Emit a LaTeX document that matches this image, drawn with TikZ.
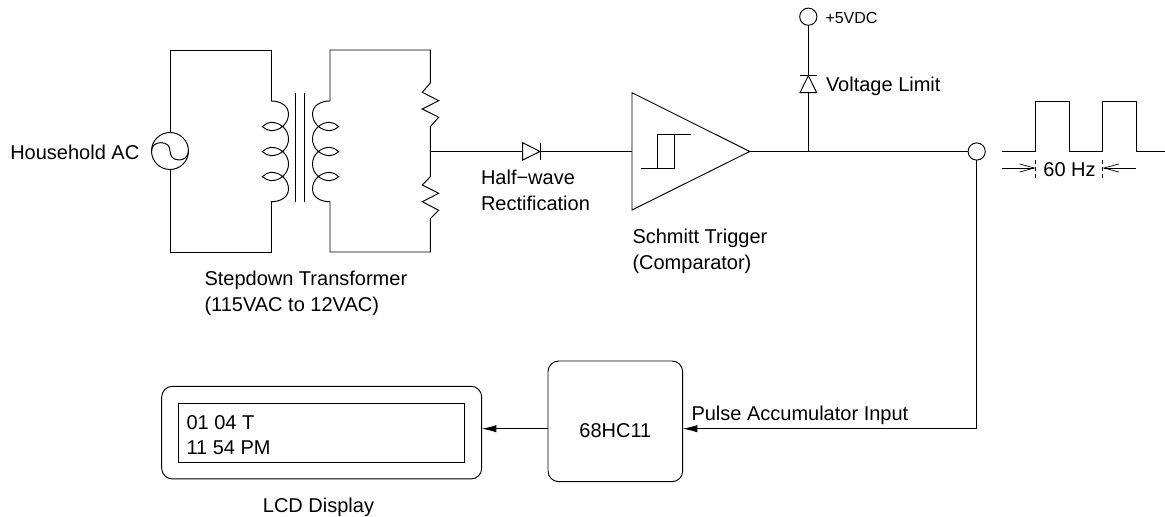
\documentclass[tikz,border=0pt]{standalone}
\usepackage{fontspec}
\setmainfont{Liberation Sans}
\usetikzlibrary{arrows.meta}
\tikzset{
  wire/.style={line width=0.72pt,line join=miter},
  thinwire/.style={line width=0.65pt},
  solidhead/.style={wire,-{Latex[length=11pt,width=5.5pt]}},
  openhead/.style={thinwire,-{Straight Barb[length=11pt,width=6pt,line width=0.55pt]}},
  lbl/.style={anchor=base west,inner sep=0pt,outer sep=0pt,font=\fontsize{15}{18}\selectfont},
  lblc/.style={lbl,anchor=base},
  ring/.style={circle,draw,line width=0.72pt,inner sep=0pt,outer sep=0pt,minimum size=#1},
  roundbox/.style={draw,line width=0.72pt,rounded corners=8pt,inner sep=0pt,outer sep=0pt,anchor=north west},
  plainbox/.style={draw,line width=0.72pt,inner sep=0pt,outer sep=0pt,anchor=north west},
}
\begin{document}
\begin{tikzpicture}[x=0.75pt,y=-0.75pt]
\useasboundingbox (0,0) rectangle (1165,517);
% source
\node[ring=27.75pt] (src) at (170,151) {};
\draw[wire] (151.5,151) .. controls (152,145) and (156,142.7) .. (161,142.7) .. controls (167,142.7) and (170,146) .. (170,151) .. controls (170,156) and (173,160) .. (179,160) .. controls (184,160) and (188,157) .. (188.5,151);
\coordinate (ptop) at (271,101);
\coordinate (pbot) at (271,201.7);
\coordinate (stop) at (330,101);
\coordinate (sbot) at (330,201.7);
\draw[wire] (src.north) |- (170,50) -| (ptop);
\draw[wire] (src.south) |- (170,252) -| (pbot);
% primary coil
\draw[wire] (ptop) .. controls (281,101) and (288.5,106) .. (288.5,114)
  .. controls (288.5,122.7) and (281,130.7) .. (271,130.7)
  .. controls (268,130.7) and (265,128.7) .. (262.3,126.7)
  .. controls (265,124.3) and (268,122.3) .. (271,122.3)
  .. controls (281,122.3) and (288.5,130) .. (288.5,139)
  .. controls (288.5,148) and (281,155.7) .. (271,155.7)
  .. controls (268,155.7) and (265,153.7) .. (262.3,151.7)
  .. controls (265,149.3) and (268,147.3) .. (271,147.3)
  .. controls (281,147.3) and (288.5,155) .. (288.5,164)
  .. controls (288.5,173) and (281,180.7) .. (271,180.7)
  .. controls (268,180.7) and (265,178.7) .. (262.3,176.7)
  .. controls (265,174.3) and (268,172.3) .. (271,172.3)
  .. controls (281,172.3) and (288.5,180) .. (288.5,189)
  .. controls (288.5,197) and (281,201.7) .. (pbot);
% core
\draw[wire] (295.7,92.7) -- (295.7,201.7);
\draw[wire] (304.3,92.7) -- (304.3,201.7);
% secondary coil
\draw[wire] (stop) .. controls (320,101) and (312.5,106) .. (312.5,114)
  .. controls (312.5,122.7) and (320,130.7) .. (330,130.7)
  .. controls (333,130.7) and (336,128.7) .. (338.7,126.7)
  .. controls (336,124.3) and (333,122.3) .. (330,122.3)
  .. controls (320,122.3) and (312.5,130) .. (312.5,139)
  .. controls (312.5,148) and (320,155.7) .. (330,155.7)
  .. controls (333,155.7) and (336,153.7) .. (338.7,151.7)
  .. controls (336,149.3) and (333,147.3) .. (330,147.3)
  .. controls (320,147.3) and (312.5,155) .. (312.5,164)
  .. controls (312.5,173) and (320,180.7) .. (330,180.7)
  .. controls (333,180.7) and (336,178.7) .. (338.7,176.7)
  .. controls (336,174.3) and (333,172.3) .. (330,172.3)
  .. controls (320,172.3) and (312.5,180) .. (312.5,189)
  .. controls (312.5,197) and (320,201.7) .. (sbot);
% secondary wiring with resistors
\coordinate (rmid) at (430.3,151.5);
\draw[wire] (stop) -- (330,50) -- (430.3,50) -- (430.3,83) -- (422.3,92.3) -- (438.7,100.7) -- (422.3,109) -- (438.7,117.3) -- (430.3,126.7) -- (rmid)
  -- (430.3,176.7) -- (422.3,185) -- (438.7,193.3) -- (422.3,201.7) -- (438.7,210.3) -- (430.3,218.7) -- (430.3,252) -- (330,252) -- (sbot);
% diode D1
\coordinate (d1a) at (522.7,151.5);
\coordinate (d1k) at (540,151.5);
\draw[wire] (rmid) -- (d1a);
\draw[wire] (522.7,142.7) -- (d1k) -- (522.7,160) -- cycle;
\draw[wire] (540,142.7) -- (540,160);
% comparator
\coordinate (cin) at (632,151.5);
\coordinate (cout) at (749.7,151.5);
\draw[wire] (d1k) -- (cin);
\draw[wire] (632,92.7) -- (cout) -- (632,210) -- cycle;
\draw[wire] (640.7,168.3) -- (674.3,168.3) -- (674.3,134.7);
\draw[wire] (657.3,168.3) -- (657.3,134.7) -- (691,134.7);
% output
\node[ring=12.9pt] (out) at (976.7,151.5) {};
\coordinate (junc) at (808.3,151.5);
\draw[wire] (cout) -- (out);
% limit diode
\node[ring=12.9pt] (vcc) at (808.3,16.7) {};
\coordinate (d2k) at (808.3,75.7);
\coordinate (d2a) at (808.3,92.7);
\draw[wire] (junc) -- (d2a);
\draw[wire] (d2k) -- (vcc);
\draw[wire] (800,92.7) -- (816.7,92.7) -- (d2k) -- cycle;
\draw[wire] (800,75.7) -- (816.7,75.7);
% waveform
\draw[wire] (1002,151.3) -- (1035.7,151.3) -- (1035.7,101) -- (1069,101) -- (1069,151.3) -- (1102.7,151.3) -- (1102.7,101) -- (1136,101) -- (1136,151.3) -- (1165,151.3);
\coordinate (dl) at (1002,168);
\coordinate (dr) at (1136,168);
\coordinate (tl) at (1035.7,168);
\coordinate (tr) at (1102.7,168);
\draw[openhead] (dl) -- (tl);
\draw[openhead] (dr) -- (tr);
\draw[thinwire,dash pattern=on 3pt off 2.2pt] (1035.7,160) -- (1035.7,180);
\draw[thinwire,dash pattern=on 3pt off 2.2pt] (1102.7,160) -- (1102.7,180);
% bottom row
\node[roundbox,minimum width=101pt,minimum height=90.5pt] (mcu) at (548,361) {};
\node[roundbox,minimum width=240pt,minimum height=69.5pt] (lcdo) at (161.7,386.3) {};
\node[plainbox,minimum width=214.2pt,minimum height=44.2pt] (lcdi) at (178.7,403.3) {};
\coordinate (inp) at (mcu.east |- 0,428.7);
\coordinate (inq) at (mcu.west |- 0,428.7);
\coordinate (inr) at (lcdo.east |- 0,428.7);
\draw[solidhead] (out.south) |- (inp);
\draw[solidhead] (inq) -- (inr);
% labels
\node[lbl] (t1) at (10.3,159.3) {Household AC};
\node[lbl] (t2) at (204.5,285.7) {Stepdown Transformer};
\node[lbl] (t3) at (204.5,311.5) {(115VAC to 12VAC)};
\node[lbl] (t4) at (481,184.3) {Half−wave};
\node[lbl] (t5) at (481,210) {Rectification};
\node[lbl] (t6) at (632.5,243.5) {Schmitt Trigger};
\node[lbl] (t7) at (632.5,269) {(Comparator)};
\node[lbl,font=\fontsize{12}{14}\selectfont] (t8) at (825.5,24) {+5VDC};
\node[lbl] (t9) at (826,92) {Voltage Limit};
\node[lblc] (t10) at (1069.5,176.7) {60 Hz};
\node[lblc] (t11) at (mcu.center |- 0,437) {68HC11};
\node[lbl] (t12) at (691.5,420) {Pulse Accumulator Input};
\node[lbl] (t13) at (186.5,429) {01 04 T};
\node[lbl] (t14) at (186.5,454) {11 54 PM};
\node[lblc] (t15) at (318.5,512.7) {LCD Display};
\end{tikzpicture}
\end{document}
